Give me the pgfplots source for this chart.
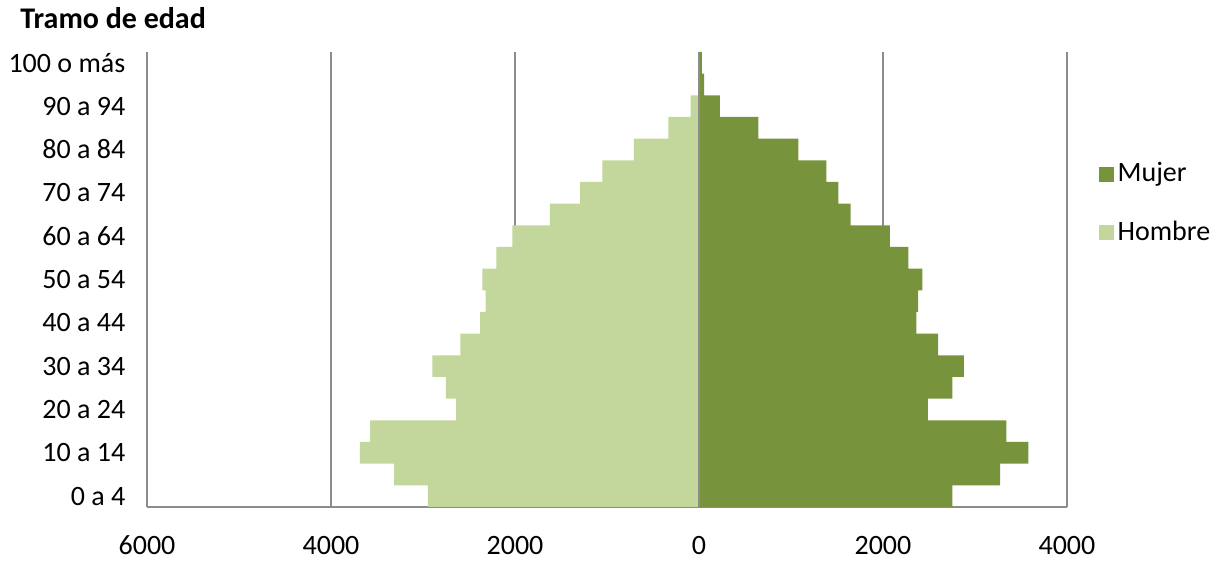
\documentclass[border=0pt]{standalone}
\usepackage{fontspec}
\setmainfont{Carlito}
\usepackage{pgfplots}
\pgfplotsset{compat=1.18}
\definecolor{mujer}{HTML}{77933C}
\definecolor{hombre}{HTML}{C3D69B}
\definecolor{gridg}{HTML}{8C8C8C}
\begin{document}
\fontsize{14pt}{16pt}\selectfont
\begin{tikzpicture}
\begin{axis}[
    at={(0,0)}, anchor=south west,
    scale only axis,
    width=460pt, height=227.5pt,
    xbar, bar width=1, bar shift=0pt,
    xmin=-6000, xmax=4000,
    ymin=-0.5, ymax=20.5,
    xtick={-6000,-4000,-2000,0,2000,4000},
    xticklabels={6000,4000,2000,0,2000,4000},
    ytick={0,2,...,20},
    yticklabels={0 a 4,10 a 14,20 a 24,30 a 34,40 a 44,50 a 54,60 a 64,70 a 74,80 a 84,90 a 94,100 o más},
    /pgf/number format/assume math mode=true,
    major tick length=0pt,
    xmajorgrids,
    grid style={gridg, line width=0.9pt},
    axis x line*=bottom, axis y line*=left,
    axis line style={gridg, line width=1pt, -},
    xticklabel style={anchor=base, yshift=-24pt},
    yticklabel style={anchor=east, xshift=-6pt},
    tick label style={font=\fontsize{14pt}{16pt}\selectfont},
    legend style={draw=none, fill=none, at={(1.034,0.667)}, anchor=west,
        font=\fontsize{14pt}{16pt}\selectfont, row sep=13.5pt, inner sep=0pt,
        legend cell align=left},
    legend image code/.code={\fill[#1] (0pt,-3.75pt) rectangle (7.5pt,3.75pt);},
]
\addplot[fill=mujer, draw=none] coordinates {
(2754,0) (3272,1) (3580,2) (3341,3) (2489,4) (2754,5) (2880,6) (2598,7)
(2362,8) (2381,9) (2428,10) (2275,11) (2076,12) (1649,13) (1514,14)
(1384,15) (1080,16) (645,17) (228,18) (55,19) (30,20)};
\addlegendentry{Mujer}
\addplot[fill=hombre, draw=none] coordinates {
(-2946,0) (-3315,1) (-3685,2) (-3576,3) (-2641,4) (-2750,5) (-2899,6) (-2594,7)
(-2380,8) (-2319,9) (-2355,10) (-2203,11) (-2029,12) (-1620,13) (-1293,14)
(-1051,15) (-707,16) (-333,17) (-90,18) (-10,19) (-2,20)};
\addlegendentry{Hombre}
\draw[gridg, line width=1pt] (axis cs:0,-0.5) -- (axis cs:0,20.5);
\end{axis}
\node[anchor=base west, font=\bfseries\fontsize{15pt}{17pt}\selectfont, inner sep=0pt] at (-63.5pt,239pt) {Tramo de edad};
\pgfresetboundingbox
\path[use as bounding box] (-73.5pt,-27.5pt) rectangle (532.5pt,253.5pt);
\end{tikzpicture}
\end{document}
